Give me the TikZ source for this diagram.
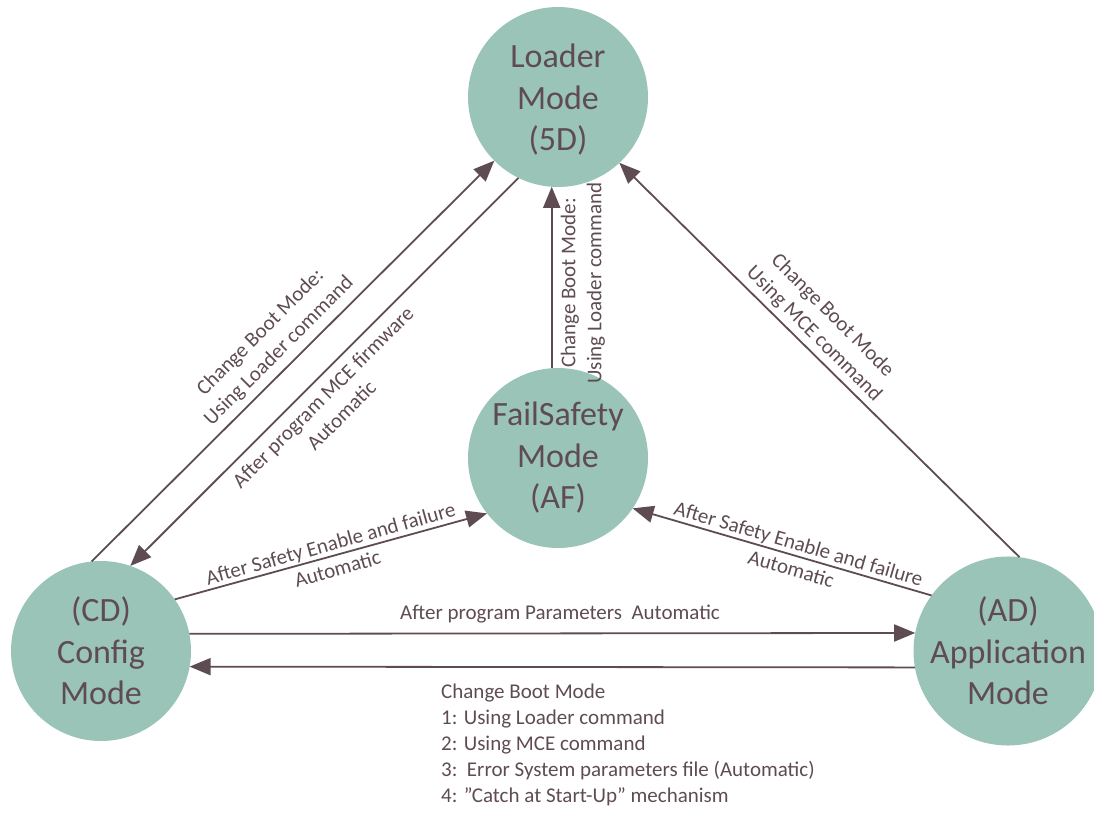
\documentclass[tikz,border=0pt]{standalone}
\usepackage{fontspec}
\setmainfont{Carlito}
\usetikzlibrary{arrows.meta}
\definecolor{modefill}{RGB}{155,196,184}
\definecolor{ink}{RGB}{94,76,82}
\begin{document}
\begin{tikzpicture}[x=1pt,y=-1pt,
  mode/.style={circle,fill=modefill,minimum size=180pt,inner sep=0pt,outer sep=0pt,align=center,text=ink,font=\fontsize{34}{41.5}\selectfont},
  conn/.style={draw=ink,line width=1.8pt,-{Triangle[length=21pt,width=17pt]}},
  lbl/.style={text=ink,align=center,inner sep=0pt,font=\fontsize{21}{26}\selectfont}]
\useasboundingbox (0,0) rectangle (1094,814);
\node[mode] (ld)  at (558,97)   {\strut Loader\\Mode\\(5D)};
\node[mode] (fs)  at (558,458)  {FailSafety\\Mode\\(AF)};
\node[mode] (cfg) at (101,651)  {(CD)\\Config\\Mode};
\node[mode] (app) at (1008,651) {(AD)\\Application\\Mode};

\draw[conn] (cfg.96) -- (ld.225);
\draw[conn] (ld.244) -- (cfg.71);
\draw[conn] (fs.94) -- (ld.266);
\draw[conn] (app.83) -- (ld.313);
\draw[conn] (cfg.35) -- (fs.218);
\draw[conn] (app.144) -- (fs.326);
\draw[conn] (cfg.11) -- (app.169);
\draw[conn] (app.190) -- (cfg.350);

\node[lbl,rotate=45] (la) at (270,342) {Change Boot Mode:\\Using Loader command};
\node[lbl,rotate=45] (lb) at (332,406) {After program MCE firmware\\Automatic};
\node[lbl,rotate=90] (lc) at (583,283) {Change Boot Mode:\\Using Loader command};
\node[lbl,rotate=-45] (ld2) at (823,325) {Change Boot Mode\\Using MCE command};
\node[lbl,rotate=15.6] (le) at (334,556) {After Safety Enable and failure\\Automatic};
\node[lbl,rotate=-16.3] (lf) at (795,556) {After Safety Enable and failure\\Automatic};
\node[lbl] (lg) at (560,614) {After program Parameters\ \ Automatic};
\node[lbl,align=left,anchor=west] (lh) at (441,745) {Change Boot Mode\\1: Using Loader command\\2: Using MCE command\\3:\ \ Error System parameters file (Automatic)\\4: \symbol{"22}Catch at Start-Up\symbol{"22} mechanism};
\end{tikzpicture}
\end{document}
